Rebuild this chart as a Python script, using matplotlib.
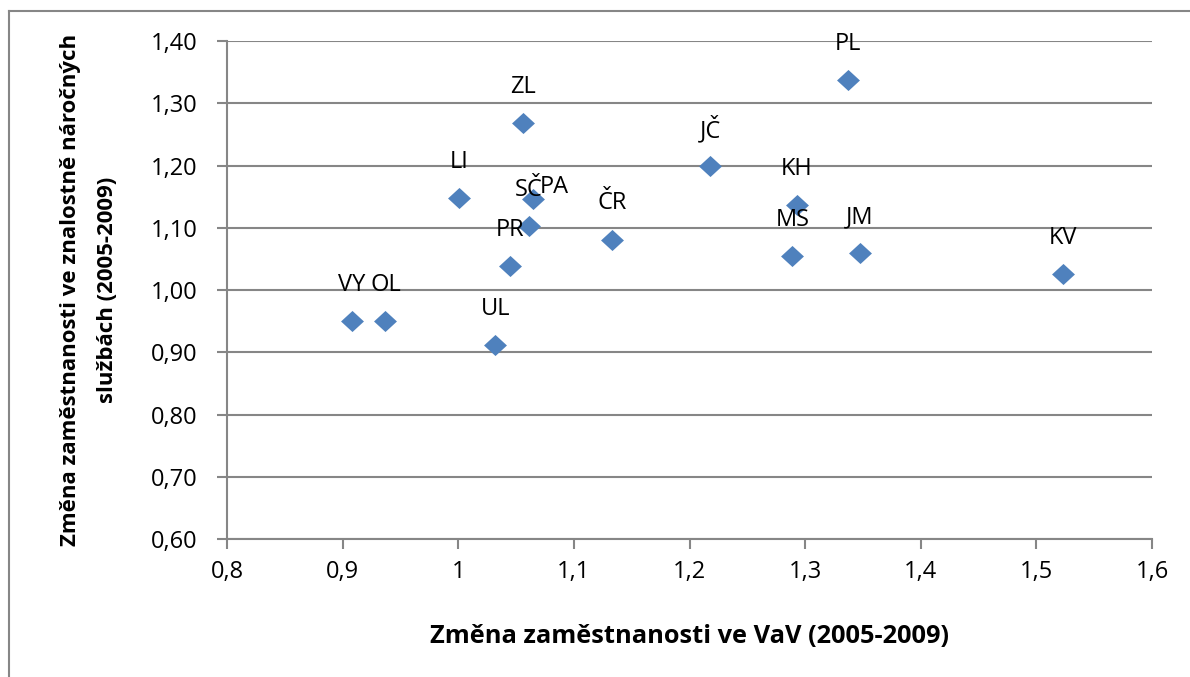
"""
Scatter: change of employment in R&D vs. knowledge-intensive services by region.
"""

import numpy as np
import matplotlib
matplotlib.use('Agg')
import matplotlib.pyplot as plt
from matplotlib.path import Path
from matplotlib.ticker import FuncFormatter, MultipleLocator
from matplotlib.lines import Line2D

# Colours
BLUE  = '#4f81bd'
GRID  = '#868686'
BLACK = '#000000'

FONT = ['Open Sans', 'DejaVu Sans']
plt.rcParams['font.family'] = FONT

# Data
regions = ['VY', 'OL', 'UL', 'PR', 'LI', 'SČ', 'PA', 'ZL',
           'ČR', 'JČ', 'KH', 'MS', 'JM', 'PL', 'KV']
vav_change = [0.908, 0.937, 1.032, 1.045, 1.001, 1.061, 1.065, 1.056,
              1.133, 1.218, 1.293, 1.289, 1.347, 1.337, 1.523]
kis_change = [0.950, 0.950, 0.912, 1.039, 1.148, 1.103, 1.146, 1.268,
              1.081, 1.199, 1.137, 1.054, 1.059, 1.337, 1.025]

x_title = 'Změna zaměstnanosti ve VaV (2005-2009)'
y_title = 'Změna zaměstnanosti ve znalostně náročných\nslužbách (2005-2009)'

# label offsets in points; default sits above the marker, PA was moved by hand
LABEL_OFFSET = (0, 26)
label_offset = {'PA': (15, 9)}

# Excel-like diamond, slightly wider than tall
diamond = Path([(-1.0, 0.0), (0.0, 0.92), (1.0, 0.0), (0.0, -0.92), (-1.0, 0.0)],
               [Path.MOVETO, Path.LINETO, Path.LINETO, Path.LINETO, Path.CLOSEPOLY])


def comma_fmt(decimals):
    def f(v, pos):
        if decimals is None:
            s = ('%.1f' % v).rstrip('0').rstrip('.')
        else:
            s = '%.*f' % (decimals, v)
        return s.replace('.', ',')
    return FuncFormatter(f)


fig = plt.figure(figsize=(11.9, 6.77), dpi=100, facecolor='white')
ax = fig.add_axes([0.1908, 0.2038, 0.7773, 0.7356])

ax.scatter(vav_change, kis_change, marker=diamond, s=16.5 ** 2,
           color=BLUE, linewidths=0, zorder=3)

for name, x, y in zip(regions, vav_change, kis_change):
    ax.annotate(name, (x, y), xytext=label_offset.get(name, LABEL_OFFSET),
                textcoords='offset points', ha='center', va='center',
                fontsize=17, color=BLACK, zorder=4)

ax.set_xlim(0.8, 1.6)
ax.set_ylim(0.6, 1.4)
ax.xaxis.set_major_locator(MultipleLocator(0.1))
ax.yaxis.set_major_locator(MultipleLocator(0.1))
ax.xaxis.set_major_formatter(comma_fmt(None))
ax.yaxis.set_major_formatter(comma_fmt(2))

ax.grid(True, axis='y', color=GRID, linewidth=1.5, zorder=0)
ax.set_axisbelow(True)
for side in ('top', 'right'):
    ax.spines[side].set_visible(False)
for side in ('left', 'bottom'):
    ax.spines[side].set_color(GRID)
    ax.spines[side].set_linewidth(1.5)

ax.tick_params(axis='both', direction='out', length=7, width=1.5,
               color=GRID, labelsize=17, labelcolor=BLACK)
ax.tick_params(axis='y', pad=14)
ax.tick_params(axis='x', pad=8)

ax.set_xlabel(x_title, fontsize=18.3, fontweight='bold', labelpad=29)
ax.set_ylabel(y_title, fontsize=16, fontweight='bold', labelpad=24,
              linespacing=2.0)

# outer chart frame (only left and top edges fall inside the picture)
fig.add_artist(Line2D([9 / 1190, 9 / 1190], [0, 1 - 11 / 677],
                      transform=fig.transFigure, color=GRID, linewidth=1.5))
fig.add_artist(Line2D([9 / 1190, 1], [1 - 11 / 677, 1 - 11 / 677],
                      transform=fig.transFigure, color=GRID, linewidth=1.5))

fig.savefig('out.png', dpi=100, facecolor='white')
